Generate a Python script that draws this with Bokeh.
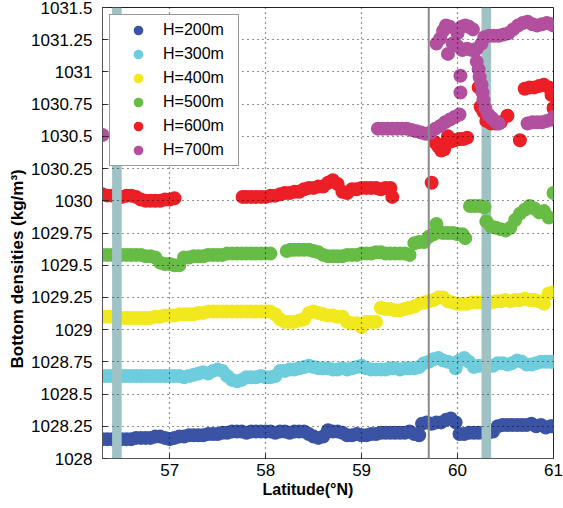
from bokeh.plotting import figure
from bokeh.models import Range1d, FixedTicker, Span, Legend, LegendItem, Title
from bokeh.embed import file_html
from bokeh.resources import INLINE

# ---------------- data ----------------
series_names = ["H=200m", "H=300m", "H=400m", "H=500m", "H=600m", "H=700m"]
series_colors = ["#3a53a4", "#6dcddd", "#f2e81e", "#67bc45", "#ec1f26", "#b24f9f"]

x_ticks = [57, 58, 59, 60, 61]
x_tick_labels = ["57", "58", "59", "60", "61"]
y_ticks = [1028.0, 1028.25, 1028.5, 1028.75, 1029.0, 1029.25, 1029.5, 1029.75,
           1030.0, 1030.25, 1030.5, 1030.75, 1031.0, 1031.25, 1031.5]
y_tick_labels = ["1028", "1028.25", "1028.5", "1028.75", "1029", "1029.25", "1029.5",
                 "1029.75", "1030", "1030.25", "1030.5", "1030.75", "1031", "1031.25", "1031.5"]
x_lo, x_hi = 56.3, 61.0
y_lo, y_hi = 1028.0, 1031.5
x_title = "Latitude(°N)"
y_title = "Bottom densities (kg/m³)"

# shaded sections and the marked latitude
bar_left = [56.40, 60.25]
bar_right = [56.50, 60.35]
mark_lat = 59.7

lat_200 = [56.30, 56.35, 56.40, 56.45, 56.50, 56.55, 56.60, 56.65, 56.70, 56.75,
           56.80, 56.85, 56.90, 56.95, 57.00, 57.05, 57.10, 57.15, 57.20, 57.25,
           57.30, 57.35, 57.40, 57.45, 57.50, 57.55, 57.60, 57.65, 57.70, 57.75,
           57.80, 57.85, 57.90, 57.95, 58.00, 58.05, 58.10, 58.15, 58.20, 58.25,
           58.30, 58.35, 58.40, 58.45, 58.50, 58.55, 58.60, 58.65, 58.70, 58.75,
           58.80, 58.85, 58.90, 58.95, 59.00, 59.05, 59.10, 59.15, 59.20, 59.25,
           59.30, 59.35, 59.40, 59.45, 59.50, 59.55, 59.60, 59.63, 59.68, 59.73,
           59.78, 59.83, 59.88, 59.93, 59.98, 60.02, 60.07, 60.12, 60.17, 60.22,
           60.27, 60.32, 60.37, 60.42, 60.47, 60.52, 60.57, 60.62, 60.67, 60.72,
           60.77, 60.82, 60.87, 60.92, 60.97, 61.00]
rho_200 = [1028.15, 1028.15, 1028.15, 1028.15, 1028.15, 1028.15, 1028.15, 1028.16, 1028.16, 1028.16,
           1028.16, 1028.17, 1028.17, 1028.16, 1028.15, 1028.16, 1028.17, 1028.17, 1028.18, 1028.18,
           1028.18, 1028.18, 1028.19, 1028.19, 1028.19, 1028.20, 1028.20, 1028.21, 1028.21, 1028.21,
           1028.20, 1028.21, 1028.21, 1028.21, 1028.21, 1028.21, 1028.20, 1028.21, 1028.21, 1028.20,
           1028.21, 1028.21, 1028.21, 1028.19, 1028.17, 1028.16, 1028.17, 1028.22, 1028.21, 1028.21,
           1028.20, 1028.18, 1028.18, 1028.19, 1028.18, 1028.18, 1028.19, 1028.19, 1028.20, 1028.20,
           1028.20, 1028.20, 1028.20, 1028.20, 1028.21, 1028.19, 1028.18, 1028.27, 1028.28, 1028.27,
           1028.28, 1028.28, 1028.30, 1028.31, 1028.28, 1028.19, 1028.19, 1028.20, 1028.20, 1028.20,
           1028.20, 1028.20, 1028.21, 1028.25, 1028.26, 1028.26, 1028.26, 1028.26, 1028.26, 1028.26,
           1028.27, 1028.25, 1028.26, 1028.24, 1028.25, 1028.25]

lat_300 = [56.30, 56.35, 56.40, 56.45, 56.50, 56.55, 56.60, 56.65, 56.70, 56.75,
           56.80, 56.85, 56.90, 56.95, 57.00, 57.05, 57.10, 57.15, 57.20, 57.25,
           57.30, 57.35, 57.40, 57.45, 57.50, 57.55, 57.60, 57.65, 57.70, 57.75,
           57.80, 57.85, 57.90, 57.95, 58.00, 58.05, 58.10, 58.15, 58.20, 58.25,
           58.30, 58.35, 58.40, 58.45, 58.50, 58.55, 58.60, 58.65, 58.70, 58.75,
           58.80, 58.85, 58.90, 58.95, 59.00, 59.05, 59.10, 59.15, 59.20, 59.25,
           59.30, 59.35, 59.40, 59.45, 59.50, 59.55, 59.60, 59.65, 59.70, 59.75,
           59.80, 59.85, 59.90, 59.95, 59.98, 60.02, 60.07, 60.12, 60.17, 60.22,
           60.27, 60.32, 60.37, 60.42, 60.47, 60.52, 60.57, 60.62, 60.67, 60.72,
           60.77, 60.82, 60.87, 60.92, 60.97, 61.00]
rho_300 = [1028.64, 1028.64, 1028.64, 1028.64, 1028.64, 1028.64, 1028.64, 1028.64, 1028.64, 1028.64,
           1028.64, 1028.64, 1028.64, 1028.64, 1028.64, 1028.64, 1028.64, 1028.63, 1028.64, 1028.65,
           1028.66, 1028.67, 1028.66, 1028.68, 1028.69, 1028.68, 1028.64, 1028.61, 1028.60, 1028.61,
           1028.63, 1028.63, 1028.63, 1028.64, 1028.63, 1028.63, 1028.64, 1028.68, 1028.68, 1028.69,
           1028.69, 1028.70, 1028.71, 1028.72, 1028.71, 1028.70, 1028.70, 1028.70, 1028.69, 1028.69,
           1028.70, 1028.69, 1028.70, 1028.71, 1028.72, 1028.70, 1028.69, 1028.69, 1028.69, 1028.69,
           1028.70, 1028.70, 1028.69, 1028.70, 1028.70, 1028.70, 1028.71, 1028.74, 1028.75, 1028.77,
           1028.78, 1028.76, 1028.75, 1028.74, 1028.70, 1028.76, 1028.78, 1028.75, 1028.71, 1028.72,
           1028.72, 1028.72, 1028.72, 1028.74, 1028.74, 1028.73, 1028.74, 1028.76, 1028.75, 1028.73,
           1028.73, 1028.74, 1028.75, 1028.75, 1028.75, 1028.75]

lat_400 = [56.30, 56.35, 56.40, 56.45, 56.50, 56.55, 56.60, 56.65, 56.70, 56.75,
           56.80, 56.85, 56.90, 56.95, 57.00, 57.05, 57.10, 57.15, 57.20, 57.25,
           57.30, 57.35, 57.40, 57.45, 57.50, 57.55, 57.60, 57.65, 57.70, 57.75,
           57.80, 57.85, 57.90, 57.95, 58.00, 58.05, 58.10, 58.15, 58.20, 58.25,
           58.30, 58.35, 58.40, 58.45, 58.50, 58.55, 58.60, 58.65, 58.70, 58.75,
           58.80, 58.85, 58.90, 58.95, 59.00, 59.05, 59.10, 59.15, 59.20, 59.25,
           59.30, 59.35, 59.40, 59.45, 59.50, 59.55, 59.60, 59.65, 59.70, 59.75,
           59.80, 59.85, 59.90, 59.95, 60.00, 60.05, 60.10, 60.15, 60.20, 60.25,
           60.30, 60.35, 60.40, 60.45, 60.50, 60.55, 60.60, 60.65, 60.70, 60.75,
           60.80, 60.85, 60.90, 60.95, 61.00]
rho_400 = [1029.10, 1029.10, 1029.10, 1029.10, 1029.09, 1029.09, 1029.09, 1029.09, 1029.09, 1029.09,
           1029.09, 1029.10, 1029.10, 1029.11, 1029.11, 1029.11, 1029.12, 1029.12, 1029.12, 1029.12,
           1029.13, 1029.13, 1029.14, 1029.14, 1029.14, 1029.14, 1029.14, 1029.14, 1029.14, 1029.14,
           1029.14, 1029.14, 1029.14, 1029.14, 1029.14, 1029.14, 1029.12, 1029.08, 1029.06, 1029.06,
           1029.06, 1029.07, 1029.08, 1029.13, 1029.14, 1029.13, 1029.12, 1029.11, 1029.11, 1029.10,
           1029.10, 1029.06, 1029.05, 1029.05, 1029.02, 1029.06, 1029.06, 1029.06, 1029.17, 1029.16,
           1029.16, 1029.15, 1029.15, 1029.16, 1029.17, 1029.18, 1029.20, 1029.21, 1029.22, 1029.23,
           1029.25, 1029.25, 1029.22, 1029.21, 1029.20, 1029.20, 1029.20, 1029.21, 1029.21, 1029.21,
           1029.21, 1029.21, 1029.22, 1029.22, 1029.23, 1029.22, 1029.23, 1029.23, 1029.24, 1029.23,
           1029.23, 1029.22, 1029.20, 1029.28, 1029.29]

lat_500 = [56.30, 56.35, 56.40, 56.45, 56.50, 56.55, 56.60, 56.65, 56.70, 56.75,
           56.80, 56.85, 56.90, 56.95, 57.00, 57.05, 57.10, 57.15, 57.20, 57.25,
           57.30, 57.35, 57.40, 57.45, 57.50, 57.55, 57.60, 57.65, 57.70, 57.75,
           57.80, 57.85, 57.90, 57.95, 58.00, 58.05, 58.22, 58.26, 58.30, 58.35,
           58.40, 58.45, 58.50, 58.55, 58.60, 58.65, 58.70, 58.75, 58.80, 58.85,
           58.90, 58.95, 59.00, 59.05, 59.10, 59.15, 59.20, 59.25, 59.30, 59.35,
           59.40, 59.45, 59.50, 59.55, 59.60, 59.65, 59.70, 59.75, 59.78, 59.80,
           59.85, 59.90, 59.95, 60.00, 60.05, 60.08, 60.13, 60.18, 60.23, 60.28,
           60.30, 60.35, 60.40, 60.45, 60.50, 60.55, 60.60, 60.65, 60.70, 60.75,
           60.80, 60.85, 60.90, 60.95, 61.00]
rho_500 = [1029.58, 1029.58, 1029.58, 1029.58, 1029.58, 1029.58, 1029.58, 1029.58, 1029.58, 1029.57,
           1029.57, 1029.56, 1029.52, 1029.51, 1029.51, 1029.50, 1029.50, 1029.56, 1029.56, 1029.57,
           1029.57, 1029.57, 1029.58, 1029.58, 1029.58, 1029.58, 1029.59, 1029.59, 1029.59, 1029.59,
           1029.59, 1029.59, 1029.59, 1029.59, 1029.59, 1029.59, 1029.61, 1029.62, 1029.62, 1029.62,
           1029.62, 1029.62, 1029.61, 1029.60, 1029.58, 1029.57, 1029.57, 1029.57, 1029.57, 1029.58,
           1029.58, 1029.58, 1029.59, 1029.59, 1029.59, 1029.60, 1029.60, 1029.59, 1029.59, 1029.59,
           1029.59, 1029.59, 1029.58, 1029.67, 1029.68, 1029.68, 1029.72, 1029.74, 1029.82, 1029.76,
           1029.75, 1029.75, 1029.75, 1029.74, 1029.74, 1029.71, 1029.96, 1029.96, 1029.96, 1029.95,
           1029.84, 1029.80, 1029.79, 1029.78, 1029.77, 1029.79, 1029.85, 1029.90, 1029.93, 1029.96,
           1029.94, 1029.91, 1029.92, 1029.87, 1030.06]

lat_600 = [56.30, 56.35, 56.40, 56.45, 56.50, 56.55, 56.60, 56.65, 56.70, 56.75,
           56.80, 56.85, 56.90, 56.95, 57.00, 57.05, 57.76, 57.80, 57.85, 57.90,
           57.95, 58.00, 58.05, 58.10, 58.15, 58.20, 58.25, 58.30, 58.35, 58.40,
           58.45, 58.50, 58.55, 58.60, 58.65, 58.70, 58.75, 58.80, 58.85, 58.90,
           58.95, 59.00, 59.05, 59.10, 59.15, 59.20, 59.25, 59.30, 59.32, 59.73,
           59.77, 59.80, 59.83, 59.86, 59.88, 59.90, 59.93, 59.97, 60.02, 60.06,
           60.10, 60.22, 60.24, 60.27, 60.30, 60.35, 60.40, 60.45, 60.52, 60.65,
           60.70, 60.75, 60.80, 60.85, 60.90, 60.95, 60.98, 61.00]
rho_600 = [1030.05, 1030.04, 1030.04, 1030.04, 1030.03, 1030.04, 1030.04, 1030.03, 1030.01, 1030.00,
           1030.00, 1030.00, 1030.00, 1030.01, 1030.01, 1030.02, 1030.03, 1030.03, 1030.03, 1030.03,
           1030.03, 1030.03, 1030.04, 1030.04, 1030.05, 1030.06, 1030.06, 1030.07, 1030.07, 1030.09,
           1030.10, 1030.10, 1030.11, 1030.11, 1030.14, 1030.16, 1030.13, 1030.07, 1030.06, 1030.09,
           1030.09, 1030.10, 1030.10, 1030.10, 1030.10, 1030.09, 1030.10, 1030.10, 1030.03, 1030.14,
           1030.45, 1030.42, 1030.39, 1030.40, 1030.45, 1030.50, 1030.46, 1030.47, 1030.48, 1030.48,
           1030.49, 1030.88, 1030.73, 1030.69, 1030.62, 1030.60, 1030.60, 1030.61, 1030.66, 1030.47,
           1030.87, 1030.88, 1030.88, 1030.89, 1030.90, 1030.88, 1030.82, 1030.72]

lat_700 = [56.30, 59.17, 59.22, 59.27, 59.32, 59.37, 59.42, 59.47, 59.52, 59.57,
           59.62, 59.67, 59.72, 59.77, 59.82, 59.87, 59.92, 59.97, 60.02, 60.03,
           60.03, 59.78, 59.82, 59.85, 59.88, 59.92, 59.90, 59.95, 60.00, 60.04,
           60.08, 60.12, 60.16, 60.00, 60.05, 60.10, 60.15, 60.20, 60.25, 60.20,
           60.22, 60.23, 60.25, 60.26, 60.27, 60.29, 60.32, 60.36, 60.40, 60.43,
           60.28, 60.33, 60.38, 60.43, 60.48, 60.53, 60.58, 60.63, 60.68, 60.73,
           60.78, 60.83, 60.88, 60.93, 60.98, 61.00, 60.73, 60.78, 60.83, 60.88,
           60.93, 60.98, 61.00]
rho_700 = [1030.51, 1030.56, 1030.56, 1030.56, 1030.56, 1030.56, 1030.56, 1030.56, 1030.55, 1030.54,
           1030.53, 1030.52, 1030.53, 1030.56, 1030.58, 1030.61, 1030.63, 1030.65, 1030.67, 1030.84,
           1030.97, 1031.22, 1031.26, 1031.32, 1031.36, 1031.35, 1031.14, 1031.22, 1031.30, 1031.35,
           1031.36, 1031.35, 1031.33, 1031.20, 1031.17, 1031.18, 1031.17, 1031.18, 1031.22, 1031.08,
           1031.02, 1030.96, 1030.90, 1030.84, 1030.78, 1030.72, 1030.67, 1030.64, 1030.61, 1030.60,
           1031.27, 1031.28, 1031.28, 1031.28, 1031.29, 1031.30, 1031.33, 1031.36, 1031.38, 1031.39,
           1031.37, 1031.36, 1031.37, 1031.38, 1031.37, 1031.36, 1030.60, 1030.61, 1030.61, 1030.61,
           1030.62, 1030.63, 1030.65]

lats = [lat_200, lat_300, lat_400, lat_500, lat_600, lat_700]
rhos = [rho_200, rho_300, rho_400, rho_500, rho_600, rho_700]

# ---------------- figure ----------------
FONT = "Liberation Sans"
p = figure(width=567, height=504, output_backend="svg", toolbar_location=None,
           x_range=Range1d(x_lo, x_hi), y_range=Range1d(y_lo, y_hi),
           min_border_left=106, min_border_right=10, min_border_top=11, min_border_bottom=42)
# pull the figure into the page's margin so the frame sits where the original's does
p.styles = {"margin-top": "-4px", "margin-left": "-4px"}
p.background_fill_color = "white"
p.border_fill_color = "white"
p.outline_line_color = "#222222"

bar_color = "#9fc2c5"
renderers = []
for i in range(6):
    r = p.scatter(lats[i], rhos[i], size=14, marker="circle",
                  fill_color=series_colors[i], line_color=None)
    renderers.append(r)
    if i == 2:
        # right shaded section drawn between the shallow and deep series
        p.quad(left=bar_left[1:], right=bar_right[1:], bottom=y_lo, top=y_hi,
               fill_color=bar_color, line_color=None)
p.quad(left=bar_left[:1], right=bar_right[:1], bottom=y_lo, top=y_hi,
       fill_color=bar_color, line_color=None)

p.add_layout(Span(location=mark_lat, dimension="height", line_color="#8a8a8a", line_width=2))

# axes
xt = FixedTicker(ticks=x_ticks)
yt = FixedTicker(ticks=y_ticks)
for ax in p.xaxis:
    ax.ticker = xt
    ax.major_label_overrides = {float(v): s for v, s in zip(x_ticks, x_tick_labels)}
for ax in p.yaxis:
    ax.ticker = yt
    ax.major_label_overrides = {float(v): s for v, s in zip(y_ticks, y_tick_labels)}

for ax in list(p.xaxis) + list(p.yaxis):
    ax.major_tick_in = 5
    ax.major_tick_out = 0
    ax.minor_tick_line_color = None
    ax.axis_line_color = "#555555"
    ax.major_tick_line_color = "#333333"
    ax.major_label_text_font = FONT
    ax.major_label_text_font_size = "17px"
    ax.major_label_text_color = "black"
p.xaxis.major_label_standoff = 5
p.yaxis.major_label_standoff = 10

# axis titles as side titles, shifted along the frame as in the original
p.add_layout(Title(text=x_title, align="left", offset=160, standoff=1,
                   text_font=FONT, text_font_size="16px", text_font_style="bold",
                   text_color="black"), "below")
p.add_layout(Title(text=y_title, align="left", offset=90, standoff=3,
                   text_font=FONT, text_font_size="17px", text_font_style="bold",
                   text_color="black"), "left")

# grid: black dotted, drawn above the markers
p.xgrid.ticker = xt
p.ygrid.ticker = yt
for g in (p.xgrid[0], p.ygrid[0]):
    g.grid_line_color = "black"
    g.grid_line_dash = "1 4"
    g.grid_line_width = 1.2
    g.grid_line_alpha = 0.85
    g.level = "guide"

# legend
items = [LegendItem(label=series_names[i], renderers=[renderers[i]]) for i in range(6)]
legend = Legend(items=items, location="top_left", margin=7, padding=3, spacing=0,
                glyph_width=50, glyph_height=24, label_standoff=0, label_width=72,
                label_text_font=FONT, label_text_font_size="16px", label_text_color="black",
                border_line_color="#333333", border_line_width=1,
                background_fill_color="white", background_fill_alpha=1.0)
p.add_layout(legend)

open("out.html", "w").write(file_html(p, INLINE))
